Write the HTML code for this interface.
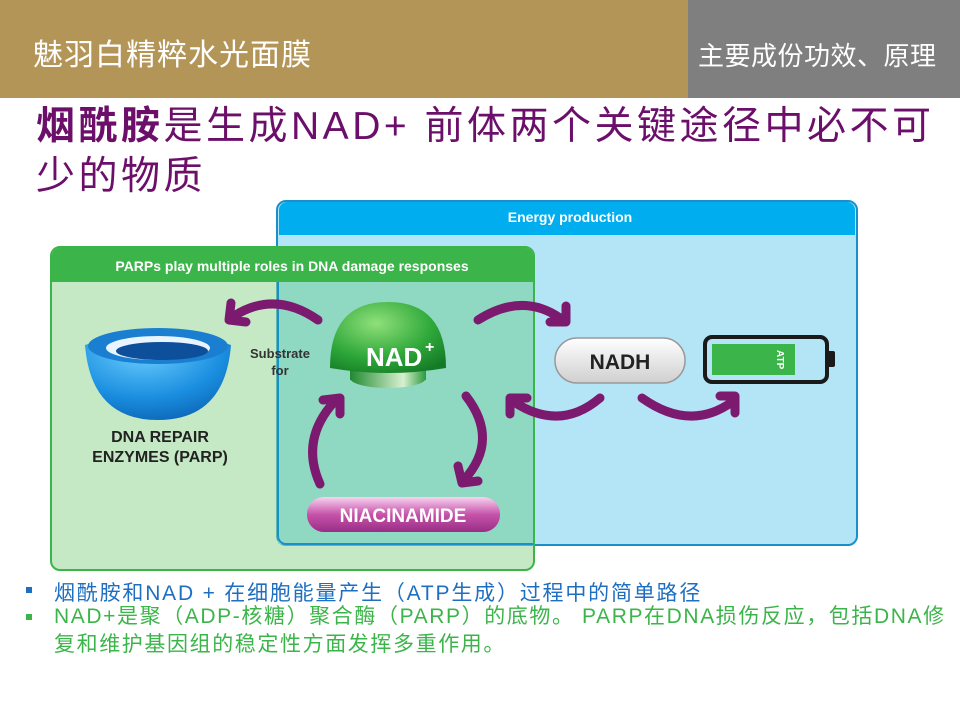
<!DOCTYPE html>
<html><head><meta charset="utf-8"><style>
body{margin:0;width:960px;height:720px;position:relative;background:#fff;overflow:hidden;font-family:"Liberation Sans","Noto Sans CJK SC",sans-serif}
.a{position:absolute;white-space:nowrap}
</style></head><body>
<div class="a" style="left:0;top:0;width:688px;height:98px;background:#b39557"></div>
<div class="a" style="left:688px;top:0;width:272px;height:98px;background:#7f7f7f"></div>
<div class="a" style="left:33px;top:30px;font-size:30px;letter-spacing:1px;color:#fff">魅羽白精粹水光面膜</div>
<div class="a" style="left:698px;top:36px;font-size:26px;letter-spacing:0.5px;color:#fff">主要成份功效、原理</div>
<div class="a" style="left:36px;top:102px;font-size:39px;line-height:50px;letter-spacing:3.5px;color:#6b0f6b"><b>烟酰胺</b>是生成NAD+ 前体两个关键途径中必不可<br>少的物质</div>
<svg class="a" style="left:0;top:0" width="960" height="720">
<defs>
<radialGradient id="dome" cx="0.4" cy="0.3" r="0.8"><stop offset="0" stop-color="#8fe07a"/><stop offset="0.6" stop-color="#2fa83a"/><stop offset="1" stop-color="#137a25"/></radialGradient>
<linearGradient id="disc" x1="0" x2="1"><stop offset="0" stop-color="#1f8a30"/><stop offset="0.7" stop-color="#d8f0d0"/><stop offset="1" stop-color="#2a9a3a"/></linearGradient>
<radialGradient id="bowl" cx="0.4" cy="0.2" r="0.9"><stop offset="0" stop-color="#6fd0ff"/><stop offset="0.6" stop-color="#1b8fe0"/><stop offset="1" stop-color="#0a5fb0"/></radialGradient>
<linearGradient id="pink" x1="0" y1="0" x2="0" y2="1"><stop offset="0" stop-color="#f7d3ef"/><stop offset="0.5" stop-color="#c653aa"/><stop offset="1" stop-color="#9a2d86"/></linearGradient>
<linearGradient id="gray" x1="0" y1="0" x2="0" y2="1"><stop offset="0" stop-color="#fff"/><stop offset="1" stop-color="#cfcfcf"/></linearGradient>
</defs>
<rect x="277" y="201" width="580" height="344" rx="9" fill="#b3e5f7" stroke="#1a90c8" stroke-width="2"/>
<path d="M279,235 V210 a8,8 0 0 1 8,-8 H847 a8,8 0 0 1 8,8 V235 Z" fill="#00aeef"/>
<text x="570" y="222" text-anchor="middle" font-size="14" font-weight="bold" fill="#fff">Energy production</text>
<rect x="51" y="247" width="483" height="323" rx="9" fill="rgba(150,215,150,0.55)" stroke="#3bb54a" stroke-width="2"/>
<path d="M52,282 V256 a8,8 0 0 1 8,-8 H525 a8,8 0 0 1 8,8 V282 Z" fill="#3bb54a"/>
<text x="292" y="271" text-anchor="middle" font-size="14" font-weight="bold" fill="#fff">PARPs play multiple roles in DNA damage responses</text>
<rect x="278" y="282" width="255" height="262" fill="#8fd8c2"/>
<path d="M278,282 V536 a8,8 0 0 0 8,8 H533" fill="none" stroke="#1a90c8" stroke-width="2"/>
<path d="M85,345 Q158,320 231,345 Q225,420 158,420 Q91,420 85,345 Z" fill="url(#bowl)"/>
<ellipse cx="158" cy="346" rx="70" ry="18" fill="#1a7fd0"/>
<ellipse cx="158" cy="348" rx="52" ry="12" fill="#e8f4ff"/>
<ellipse cx="162" cy="351" rx="46" ry="9" fill="#0d4f9a"/>
<text x="160" y="442" text-anchor="middle" font-size="16" font-weight="bold" fill="#222">DNA REPAIR</text>
<text x="160" y="462" text-anchor="middle" font-size="16" font-weight="bold" fill="#222">ENZYMES (PARP)</text>
<text x="280" y="358" text-anchor="middle" font-size="13" font-weight="bold" fill="#333">Substrate</text>
<text x="280" y="375" text-anchor="middle" font-size="13" font-weight="bold" fill="#333">for</text>
<ellipse cx="388" cy="378" rx="38" ry="10" fill="url(#disc)"/>
<rect x="350" y="368" width="76" height="12" fill="url(#disc)"/>
<path d="M330,368 Q330,302 388,302 Q446,302 446,368 Q388,378 330,368 Z" fill="url(#dome)"/>
<text x="366" y="366" font-size="26" font-weight="bold" fill="#fff">NAD</text><text x="425" y="352" font-size="16" font-weight="bold" fill="#fff">+</text>
<rect x="555" y="338" width="130" height="45" rx="22" fill="url(#gray)" stroke="#999" stroke-width="1.5"/>
<text x="620" y="369" text-anchor="middle" font-size="21" font-weight="bold" fill="#222">NADH</text>
<rect x="705" y="337" width="122" height="45" rx="7" fill="none" stroke="#1a1a1a" stroke-width="4"/>
<rect x="712" y="344" width="83" height="31" fill="#3bb54a"/>
<rect x="827" y="351" width="8" height="16" rx="2" fill="#1a1a1a"/>
<text x="0" y="0" transform="translate(777,350) rotate(90)" font-size="10" font-weight="bold" fill="#fff">ATP</text>
<rect x="307" y="497" width="193" height="35" rx="17" fill="url(#pink)"/>
<text x="403" y="522" text-anchor="middle" font-size="19" font-weight="bold" fill="#fff">NIACINAMIDE</text>
<g fill="none" stroke="#7b1a6e" stroke-width="9" stroke-linecap="round" stroke-linejoin="round">
<path d="M318,320 Q275,290 234,316"/><path d="M231,303 L229,320 L246,322"/>
<path d="M478,320 Q522,292 560,318"/><path d="M566,306 L566,322 L550,322"/>
<path d="M466,396 Q500,440 464,480"/><path d="M458,466 L462,483 L478,481"/>
<path d="M320,484 Q300,440 334,402"/><path d="M323,400 L340,398 L340,414"/>
<path d="M600,398 Q560,432 514,402"/><path d="M527,398 L510,398 L510,414"/>
<path d="M642,398 Q690,432 732,402"/><path d="M720,396 L735,396 L735,413"/>
</g>
<rect x="26" y="587" width="6" height="6" fill="#1f6fc0"/>
<rect x="26" y="614" width="6" height="6" fill="#3bb54a"/>
</svg>
<div class="a" style="left:54px;top:577px;font-size:21px;letter-spacing:1.8px;color:#1f6fc0">烟酰胺和NAD + 在细胞能量产生（ATP生成）过程中的简单路径</div>
<div class="a" style="left:54px;top:603px;font-size:21px;line-height:28px;letter-spacing:1.6px;color:#3bb54a">NAD+是聚（ADP-核糖）聚合酶（PARP）的底物。 PARP在DNA损伤反应，包括DNA修<br>复和维护基因组的稳定性方面发挥多重作用。</div>
</body></html>
